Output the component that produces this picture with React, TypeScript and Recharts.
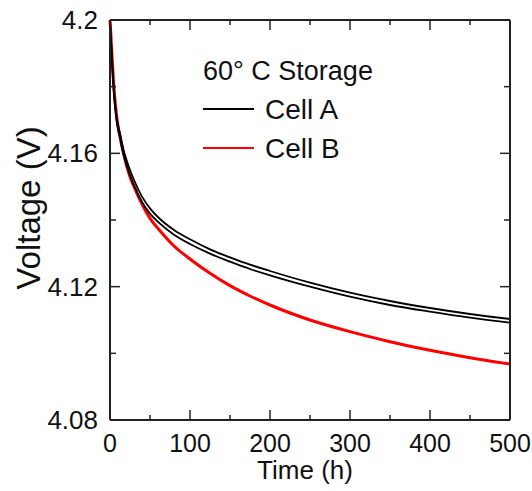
import React from 'react';
import { LineChart, Line, XAxis, YAxis, Legend } from 'recharts';

const timeH = [0, 1, 2, 4, 6, 8, 10, 12.5, 15, 17.5, 20, 25, 30, 40, 50, 62.5, 80, 100, 125, 150, 175, 200, 250, 300, 350, 400, 450, 500];
const cellA1 = [4.2, 4.195, 4.1905, 4.182, 4.176, 4.1715, 4.1685, 4.166, 4.163, 4.1605, 4.1585, 4.155, 4.152, 4.147, 4.1435, 4.1403, 4.137, 4.1342, 4.1312, 4.1288, 4.1266, 4.1247, 4.1212, 4.1182, 4.1157, 4.1136, 4.1118, 4.1103];
const cellA2 = [4.2, 4.1947, 4.19, 4.181, 4.1748, 4.1702, 4.1673, 4.1647, 4.1616, 4.159, 4.157, 4.1534, 4.1504, 4.1454, 4.1419, 4.1389, 4.1356, 4.1328, 4.1299, 4.1275, 4.1253, 4.1234, 4.12, 4.117, 4.1145, 4.1125, 4.1107, 4.1092];
const cellB = [4.2, 4.196, 4.1915, 4.183, 4.1765, 4.1718, 4.1682, 4.165, 4.162, 4.1595, 4.157, 4.153, 4.15, 4.1448, 4.1405, 4.1368, 4.1322, 4.1283, 4.124, 4.1203, 4.1172, 4.1145, 4.11, 4.1065, 4.1035, 4.1009, 4.0987, 4.0968];

const xTicks = [0, 50, 100, 150, 200, 250, 300, 350, 400, 450, 500];
const yTicks = [4.08, 4.1, 4.12, 4.14, 4.16, 4.18, 4.2];
const legendTitle = '60° C Storage';

const rows = timeH.map((t, i) => ({ t, a1: cellA1[i], a2: cellA2[i], b: cellB[i] }));

const FONT = '"Liberation Sans", Arial, sans-serif';
const AX = '#222';

const isMajorX = (v: number) => v % 100 === 0;
const isMajorY = (v: number) => Math.round(v * 100) % 4 === 0;
const fmtY = (v: number) => String(parseFloat(v.toFixed(2)));

const BottomTick = (props: any) => {
  const { x, y, payload } = props;
  const major = isMajorX(payload.value);
  return (
    <g>
      <line x1={x} x2={x} y1={y} y2={y - (major ? 10 : 5)} stroke={AX} strokeWidth={1.5} />
      {major && (
        <text x={x} y={y + 32} textAnchor="middle" fontSize={25} fontFamily={FONT} fill="#111">
          {payload.value}
        </text>
      )}
    </g>
  );
};

const TopTick = (props: any) => {
  const { x, y, payload } = props;
  const major = isMajorX(payload.value);
  return <line x1={x} x2={x} y1={y} y2={y + (major ? 10 : 5)} stroke={AX} strokeWidth={1.5} />;
};

const LeftTick = (props: any) => {
  const { x, y, payload } = props;
  const major = isMajorY(payload.value);
  return (
    <g>
      <line x1={x} x2={x + (major ? 10 : 6)} y1={y} y2={y} stroke={AX} strokeWidth={1.5} />
      {major && (
        <text x={x - 12} y={y + 9} textAnchor="end" fontSize={26} fontFamily={FONT} fill="#111">
          {fmtY(payload.value)}
        </text>
      )}
    </g>
  );
};

const RightTick = (props: any) => {
  const { x, y, payload } = props;
  const major = isMajorY(payload.value);
  return <line x1={x} x2={x - (major ? 10 : 6)} y1={y} y2={y} stroke={AX} strokeWidth={1.5} />;
};

const YLabel = (props: any) => {
  const vb = props.viewBox || { x: 0, y: 20, width: 110, height: 400 };
  const cx = vb.x + 28;
  const cy = vb.y + vb.height / 2 - 12;
  return (
    <text
      transform={`translate(${cx},${cy}) rotate(-90)`}
      textAnchor="middle"
      dominantBaseline="central"
      fontSize={33}
      fontFamily={FONT}
      fill="#111"
    >
      Voltage (V)
    </text>
  );
};

const renderLegend = (props: any) => {
  const items = (props.payload || []).filter((p: any) => p.type !== 'none');
  return (
    <svg width={200} height={120} style={{ display: 'block' }}>
      <text x={13} y={30} fontSize={27} fontFamily={FONT} fill="#111">{legendTitle}</text>
      {items.map((p: any, i: number) => (
        <g key={p.value}>
          <line x1={13} x2={64} y1={59 + i * 39} y2={59 + i * 39} stroke={p.color} strokeWidth={2} />
          <text x={75} y={69 + i * 39} fontSize={28} fontFamily={FONT} fill="#111">{p.value}</text>
        </g>
      ))}
    </svg>
  );
};

export default function App() {
  return (
    <div style={{ position: 'absolute', left: 0, top: 0, background: '#fff' }}>
      <LineChart width={532} height={491} data={rows} margin={{ top: 0, right: 0, bottom: 0, left: 0 }}>
        <XAxis
          dataKey="t"
          type="number"
          domain={[0, 500]}
          ticks={xTicks}
          interval={0}
          height={71}
          tickSize={0}
          tickMargin={0}
          tickLine={false}
          tick={BottomTick}
          axisLine={{ stroke: AX, strokeWidth: 2 }}
          label={{ value: 'Time (h)', position: 'insideBottom', offset: 12, fontSize: 26, fontFamily: FONT, fill: '#111', dx: -5 }}
        />
        <XAxis
          xAxisId="top"
          orientation="top"
          dataKey="t"
          type="number"
          domain={[0, 500]}
          ticks={xTicks}
          interval={0}
          height={20}
          tickSize={0}
          tickMargin={0}
          tickLine={false}
          tick={TopTick}
          axisLine={{ stroke: AX, strokeWidth: 2 }}
        />
        <YAxis
          type="number"
          domain={[4.08, 4.2]}
          ticks={yTicks}
          interval={0}
          width={110}
          allowDataOverflow
          tickSize={0}
          tickMargin={0}
          tickLine={false}
          tick={LeftTick}
          axisLine={{ stroke: AX, strokeWidth: 2 }}
          label={{ content: YLabel }}
        />
        <YAxis
          yAxisId="right"
          orientation="right"
          type="number"
          domain={[4.08, 4.2]}
          ticks={yTicks}
          interval={0}
          width={22}
          allowDataOverflow
          tickSize={0}
          tickMargin={0}
          tickLine={false}
          tick={RightTick}
          axisLine={{ stroke: AX, strokeWidth: 2 }}
        />
        <Legend
          layout="vertical"
          align="center"
          verticalAlign="middle"
          content={renderLegend}
          wrapperStyle={{ position: 'absolute', left: 190, top: 50, width: 200, height: 120 }}
        />
        <Line dataKey="b" name="Cell B" type="monotone" stroke="#ff0000" strokeWidth={3} dot={false} isAnimationActive={false} legendType="line" />
        <Line dataKey="a1" name="Cell A" type="monotone" stroke="#000" strokeWidth={1.8} dot={false} isAnimationActive={false} legendType="line" />
        <Line dataKey="a2" name="Cell A (2)" xAxisId="top" yAxisId="right" type="monotone" stroke="#000" strokeWidth={1.8} dot={false} isAnimationActive={false} legendType="none" />
      </LineChart>
    </div>
  );
}
